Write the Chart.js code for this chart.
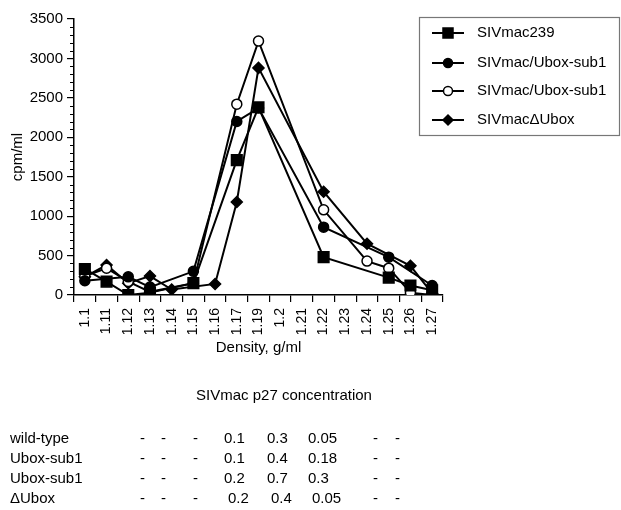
<!DOCTYPE html>
<html>
<head>
<meta charset="utf-8">
<script src="https://cdn.jsdelivr.net/npm/chart.js@4.4.1/dist/chart.umd.min.js"></script>
<style>
	body { margin: 0; background: #fff; }
	#wrap { position: relative; width: 621px; height: 510px; font-family: "Liberation Sans", Arial, sans-serif; color: #000; }
	#myChart { position: absolute; left: 0; top: 0; }
	.t { position: absolute; font-size: 15px; line-height: 18px; white-space: nowrap; }
</style>
</head>
<body>
<div id="wrap">
	<canvas id="myChart" width="621" height="510"></canvas>
	<div id="table"></div>
</div>
<script>
// density fractions (1.18 is not on the axis)
const densities = ['1.1', '1.11', '1.12', '1.13', '1.14', '1.15', '1.16', '1.17', '1.19', '1.2', '1.21', '1.22', '1.23', '1.24', '1.25', '1.26', '1.27'];

const seriesNames = ['SIVmac239', 'SIVmac/Ubox-sub1', 'SIVmac/Ubox-sub1', 'SIVmac\u0394Ubox'];

// cpm/ml, null = no fraction measured
const wt = [330, 170, 0, 30, null, 150, null, 1710, 2380, null, null, 480, null, null, 220, 120, 60];
const sub1a = [180, null, 230, 100, null, 300, null, 2200, 2370, null, null, 860, null, null, 480, null, 120];
const sub1b = [240, 340, 170, 40, null, 150, null, 2420, 3220, null, null, 1080, null, 430, 340, 30, 0];
const dUbox = [230, 380, 150, 240, 70, null, 140, 1180, 2880, null, null, 1310, null, 650, null, 370, 20];

const yTicksMax = 3500;

// p27 table under the chart
const tableTitle = 'SIVmac p27 concentration';
const tableRows = ['wild-type', 'Ubox-sub1', 'Ubox-sub1', '\u0394Ubox'];
const tableValues = [
	['-', '-', '-', '0.1', '0.3', '0.05', '-', '-'],
	['-', '-', '-', '0.1', '0.4', '0.18', '-', '-'],
	['-', '-', '-', '0.2', '0.7', '0.3', '-', '-'],
	['-', '-', '-', '0.2', '0.4', '0.05', '-', '-']
];

// build the table
const colX = [140, 161, 193, 224, 267, 308, 373, 395];
const tbl = document.getElementById('table');
function addText(txt, x, y, center) {
	let d = document.createElement('div');
	d.className = 't';
	d.textContent = txt;
	d.style.top = (y - 9) + 'px';
	d.style.left = x + 'px';
	if (center) d.style.transform = 'translateX(-50%)';
	tbl.appendChild(d);
}
addText(tableTitle, 284, 395, true);
tableRows.forEach(function (name, i) {
	let y = 438 + i * 20;
	addText(name, 10, y);
	tableValues[i].forEach(function (v, j) {
		let x = colX[j];
		if (i == 3 && j >= 3 && j <= 5) x += 4;
		addText(v, x, y);
	});
});

const font = { family: '"Liberation Sans", Arial, sans-serif', size: 15 };

function ds(label, data, style, radius, fill) {
	return {
		label: label,
		data: data,
		borderColor: '#000',
		borderWidth: 2,
		pointStyle: style,
		pointRadius: radius,
		pointHoverRadius: radius,
		pointBackgroundColor: fill,
		pointBorderColor: '#000',
		pointBorderWidth: 1.5,
		spanGaps: true,
		tension: 0,
		fill: false
	};
}

// legend box + minor y ticks
const extras = {
	id: 'extras',
	afterDraw: function (chart) {
		const c = chart.ctx;
		const y = chart.scales.y;
		const left = chart.chartArea.left;
		c.save();
		c.strokeStyle = '#000';
		c.lineWidth = 1;
		for (let v = 100; v < yTicksMax; v += 100) {
			if (v % 500 == 0) continue;
			let py = Math.round(y.getPixelForValue(v)) + 0.5;
			c.beginPath();
			c.moveTo(left - 4, py);
			c.lineTo(left, py);
			c.stroke();
		}
		// legend
		c.fillStyle = '#fff';
		c.fillRect(419, 17, 201, 119);
		c.strokeStyle = '#777';
		c.lineWidth = 1.2;
		c.strokeRect(419.5, 17.5, 200, 118);
		const rows = [33, 63, 91, 120];
		c.font = '15px "Liberation Sans", Arial, sans-serif';
		c.textBaseline = 'middle';
		chart.data.datasets.forEach(function (d, i) {
			let ry = rows[i];
			c.strokeStyle = '#000';
			c.lineWidth = 2;
			c.beginPath();
			c.moveTo(432, ry);
			c.lineTo(464, ry);
			c.stroke();
			c.lineWidth = 1.5;
			c.fillStyle = d.pointBackgroundColor;
			c.beginPath();
			if (d.pointStyle == 'rect') {
				c.rect(443, ry - 5, 10, 10);
			} else if (d.pointStyle == 'rectRot') {
				c.moveTo(448, ry - 5); c.lineTo(453, ry); c.lineTo(448, ry + 5); c.lineTo(443, ry); c.closePath();
			} else {
				c.arc(448, ry, 4.5, 0, Math.PI * 2);
			}
			c.fill();
			c.stroke();
			c.fillStyle = '#000';
			c.fillText(d.label, 477, ry);
		});
		c.restore();
	}
};

var ctx = document.getElementById('myChart').getContext('2d');
let config = {
	type: 'line',
	data: {
		labels: densities,
		datasets: [
			ds(seriesNames[0], wt, 'rect', 7.5, '#000'),
			ds(seriesNames[1], sub1a, 'circle', 5, '#000'),
			ds(seriesNames[2], sub1b, 'circle', 5, '#fff'),
			ds(seriesNames[3], dUbox, 'rectRot', 5.5, '#000')
		]
	},
	options: {
		responsive: false,
		animation: false,
		events: [],
		layout: { padding: { left: 0, top: 19, right: 178, bottom: 145 } },
		plugins: { legend: { display: false }, tooltip: { enabled: false } },
		scales: {
			x: {
				offset: true,
				grid: { offset: true, drawOnChartArea: false, color: '#000', tickLength: 7, lineWidth: 1.2 },
				border: { color: '#000', width: 1.5 },
				ticks: { color: '#000', font: { family: font.family, size: 14 }, minRotation: 90, maxRotation: 90, autoSkip: false, padding: 6 },
				title: { display: true, text: 'Density, g/ml', color: '#000', font: font, padding: { top: 0, bottom: 8 } },
				afterFit: function (s) { s.height = 70; }
			},
			y: {
				min: 0,
				max: yTicksMax,
				grid: { drawOnChartArea: false, color: '#000', tickLength: 7, lineWidth: 1.2 },
				border: { color: '#000', width: 1.5 },
				ticks: { stepSize: 500, color: '#000', font: font, padding: 4, callback: function (v) { return String(v); } },
				title: { display: true, text: 'cpm/ml', color: '#000', font: font, padding: { top: 9, bottom: 0 } },
				afterFit: function (s) { s.width = 74; }
			}
		}
	},
	plugins: [extras]
};

var myChart = new Chart(ctx, config);
</script>
</body>
</html>
